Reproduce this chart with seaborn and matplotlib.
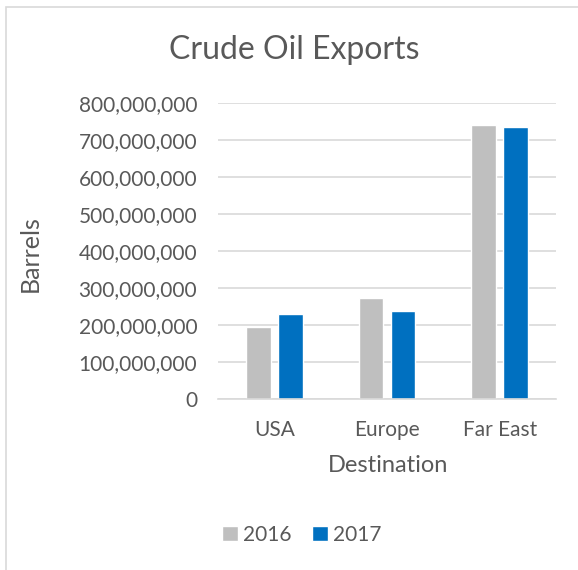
import matplotlib
matplotlib.use("Agg")
import matplotlib.pyplot as plt
import seaborn as sns
import pandas as pd
from matplotlib.ticker import FuncFormatter
from matplotlib.patches import Rectangle

destinations = ["USA", "Europe", "Far East"]
years = ["2016", "2017"]
exports_2016 = [193_500_000, 274_000_000, 740_000_000]
exports_2017 = [228_500_000, 238_500_000, 736_000_000]
y_ticks = [0, 100_000_000, 200_000_000, 300_000_000, 400_000_000,
           500_000_000, 600_000_000, 700_000_000, 800_000_000]

df = pd.DataFrame({
    "Destination": destinations * 2,
    "Year": [years[0]] * 3 + [years[1]] * 3,
    "Barrels": exports_2016 + exports_2017,
})

sns.set_theme(style="white")
plt.rcParams["font.family"] = ["Lato", "DejaVu Sans"]

TXT = "#595959"
W, H = 578, 570
fig = plt.figure(figsize=(W / 100, H / 100), dpi=100)
ax = fig.add_axes([218 / W, 1 - 399 / H, (556 - 218) / W, (399 - 103) / H])

sns.barplot(data=df, x="Destination", y="Barrels", hue="Year",
            palette=["#BFBFBF", "#0070C0"], width=0.57, gap=0.23,
            saturation=1, ax=ax, errorbar=None)

ax.set_ylim(0, 800_000_000)
ax.set_yticks(y_ticks)
ax.yaxis.set_major_formatter(FuncFormatter(lambda v, p: f"{int(v):,}"))
ax.grid(axis="y", color="#D9D9D9", linewidth=1.2)
ax.set_axisbelow(True)
for s in ["top", "right", "left"]:
    ax.spines[s].set_visible(False)
ax.spines["bottom"].set_color("#D9D9D9")
ax.spines["bottom"].set_linewidth(1.2)
ax.tick_params(axis="both", length=0, labelsize=15, colors=TXT)
ax.tick_params(axis="x", pad=15)
ax.tick_params(axis="y", pad=15)

ax.set_xlabel("Destination", fontsize=17, color=TXT)
ax.set_ylabel("Barrels", fontsize=18, color=TXT)
ax.xaxis.set_label_coords((388 - 218) / (556 - 218), -(466 - 399) / (399 - 103))
ax.yaxis.set_label_coords((30 - 218) / (556 - 218), 1 - (254 - 103) / (399 - 103))
ax.xaxis.label.set_va("center")
ax.yaxis.label.set_va("center")
fig.text(294 / W, 1 - 50 / H, "Crude Oil Exports", fontsize=23, color=TXT,
         ha="center", va="center")

sns.move_legend(ax, "center", bbox_to_anchor=(302 / W, 1 - 535 / H),
                bbox_transform=fig.transFigure, ncol=2, frameon=False,
                title=None, fontsize=15, handlelength=0.75, handleheight=0.75,
                handletextpad=0.25, columnspacing=1.0)
for t in ax.get_legend().get_texts():
    t.set_color(TXT)

fig.patches.append(Rectangle((6 / W, -0.05), 1.1, 1 - 7 / H + 0.05,
                             transform=fig.transFigure, fill=False,
                             edgecolor="#D9D9D9", linewidth=1.2, zorder=-1))

fig.savefig("out.png", dpi=100)
